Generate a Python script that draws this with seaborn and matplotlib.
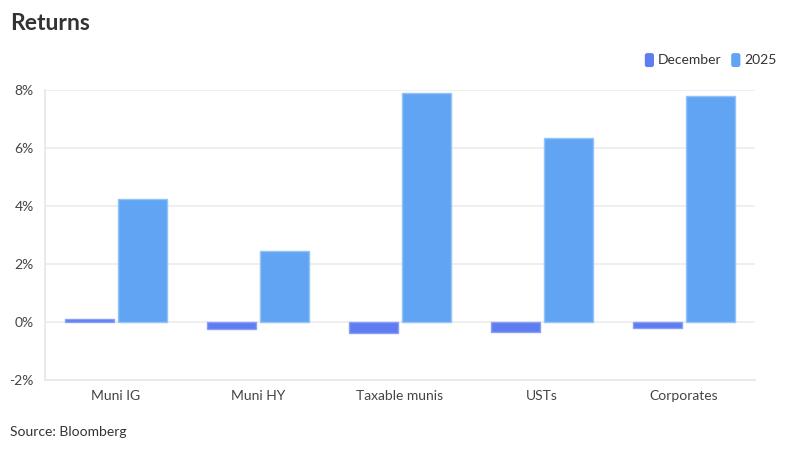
import matplotlib
import matplotlib.pyplot as plt
import pandas as pd
import seaborn as sns
from matplotlib.patches import FancyBboxPatch
from matplotlib.ticker import FuncFormatter

categories = ['Muni IG', 'Muni HY', 'Taxable munis', 'USTs', 'Corporates']
december = [0.09, -0.25, -0.37, -0.34, -0.21]
year_2025 = [4.25, 2.46, 7.91, 6.33, 7.78]
series = ['December', '2025']

COLORS = {'December': '#5f7cf0', '2025': '#60a4f3'}
EDGES = {'December': '#8aa0f5', '2025': '#93c3f8'}


def main():
    df = pd.DataFrame({
        'Category': categories * 2,
        'Series': ['December'] * len(categories) + ['2025'] * len(categories),
        'Return': december + year_2025,
    })

    sns.set_style('white')
    plt.rcParams['font.family'] = ['Lato', 'DejaVu Sans']

    fig = plt.figure(figsize=(8, 4.5), dpi=100)
    ax = fig.add_axes([0.05625, 0.1556, 0.8875, 0.6444])

    sns.barplot(data=df, x='Category', y='Return', hue='Series', hue_order=series,
                order=categories, palette=COLORS, saturation=1, width=0.75, gap=0.07,
                errorbar=None, legend=False, ax=ax, zorder=3)

    for container, name in zip(ax.containers, series):
        for bar in container:
            bar.set_edgecolor(EDGES[name])
            bar.set_linewidth(1.0)

    ax.set_xlim(-0.5, len(categories) - 0.5)
    ax.set_ylim(-2, 8)
    ax.set_yticks([-2, 0, 2, 4, 6, 8])
    ax.yaxis.set_major_formatter(FuncFormatter(lambda v, _: f'{v:.0f}%'))
    ax.grid(axis='y', color='#ececec', linewidth=1.2, zorder=0)
    ax.set_xlabel('')
    ax.set_ylabel('')

    for side in ['top', 'right']:
        ax.spines[side].set_visible(False)
    for side in ['left', 'bottom']:
        ax.spines[side].set_color('#e6e6e6')
        ax.spines[side].set_linewidth(1.2)

    ax.tick_params(axis='both', length=6, color='#e6e6e6', width=1.2,
                   labelsize=10, labelcolor='#444444')
    ax.tick_params(axis='x', pad=1.5)
    ax.tick_params(axis='y', pad=2)

    fig.text(0.0125, 0.947, 'Returns', fontsize=16.5, fontweight='bold',
             color='#333333', va='center', ha='left')
    fig.text(0.0125, 0.04, 'Source: Bloomberg', fontsize=10,
             color='#333333', va='center', ha='left')

    # legend with rounded swatches
    legend_items = [(0.806, 'December'), (0.914, '2025')]
    for x0, name in legend_items:
        sw = FancyBboxPatch((x0, 0.851), 0.0115, 0.031,
                            boxstyle='round,pad=0,rounding_size=0.003',
                            mutation_aspect=800 / 450,
                            transform=fig.transFigure, facecolor=COLORS[name],
                            edgecolor='none')
        fig.patches.append(sw)
        fig.text(x0 + 0.0165, 0.866, name, fontsize=10, color='#333333',
                 va='center', ha='left')

    fig.savefig('out.png', dpi=100)


if __name__ == '__main__':
    main()
